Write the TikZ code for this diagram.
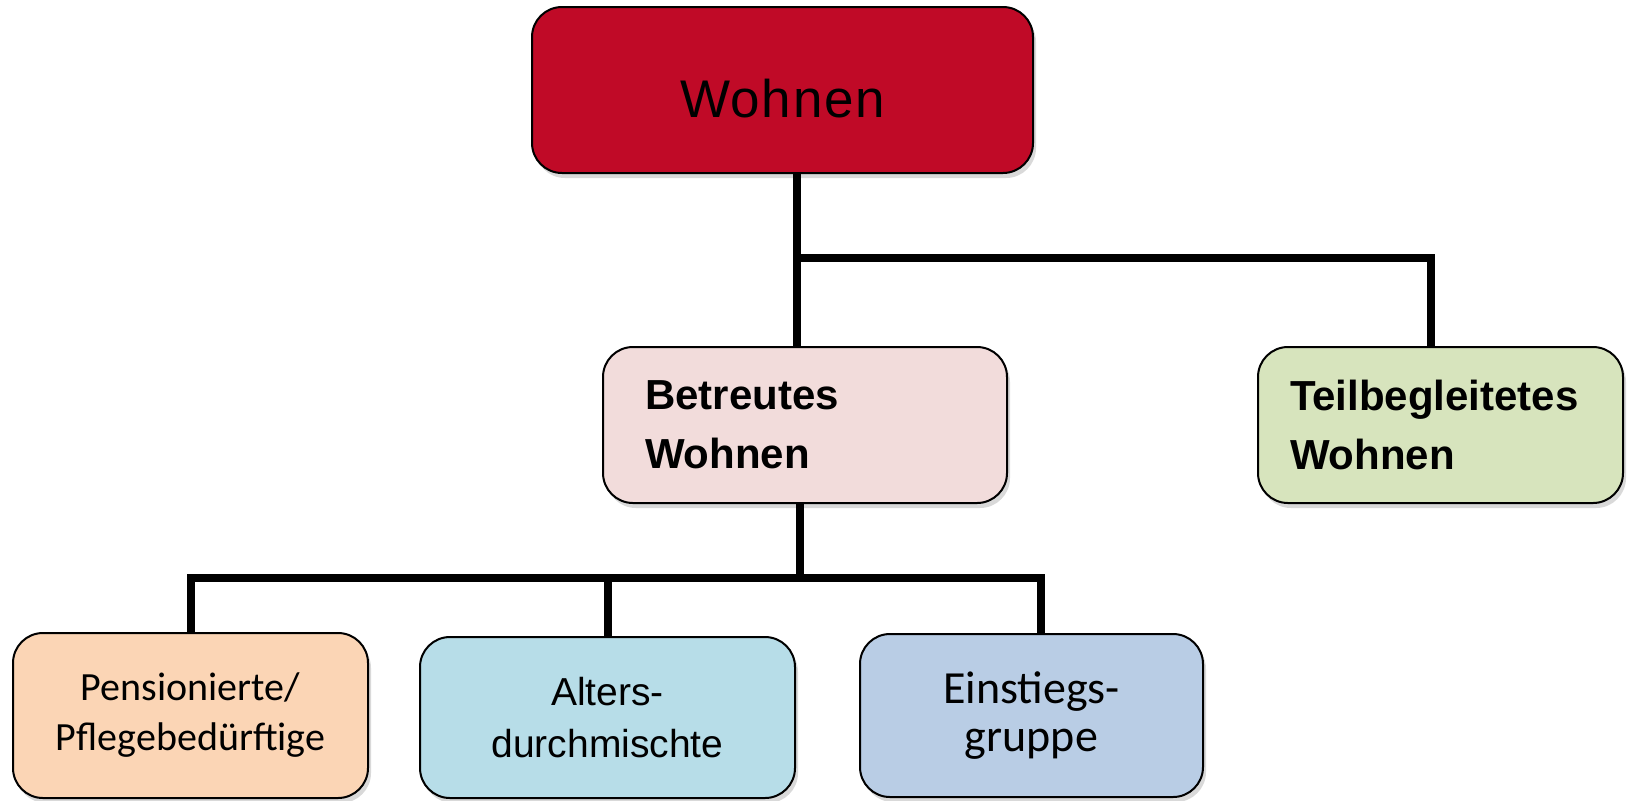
\documentclass[tikz,border=0pt]{standalone}
\usepackage{fontspec}
\setmainfont{Liberation Sans}
\newfontfamily\calfont{Carlito}
\usepackage{xcolor}
\definecolor{wohnRed}{HTML}{C00A27}
\definecolor{betrPink}{HTML}{F2DCDB}
\definecolor{teilGreen}{HTML}{D7E4BD}
\definecolor{pensPeach}{HTML}{FBD5B5}
\definecolor{altBlue}{HTML}{B7DDE8}
\definecolor{einBlue}{HTML}{B9CDE5}
\usepackage{tikz}
\usetikzlibrary{shadows}

\begin{document}
\begin{tikzpicture}[x=0.5pt, y=-0.5pt,
  box/.style={draw=black, line width=1pt, rounded corners=15pt, inner sep=0pt,
    outer sep=0pt, align=center,
    drop shadow={shadow xshift=1.5pt, shadow yshift=-2.5pt, opacity=0.3}},
  link/.style={line width=4pt, black}]
  \useasboundingbox (0,0) rectangle (1627,800);
  % ---- top level ----
  \node[box, fill=wohnRed, minimum width=250.5pt, minimum height=83pt,
    text height=27pt, text depth=0pt,
    font=\fontsize{26.5}{32}\selectfont\addfontfeature{LetterSpace=3}] (wohnen) at (782.5,90) {Wohnen};
  % ---- second level ----
  \node[box, fill=betrPink, minimum width=202pt, minimum height=78pt,
    text width=160pt, inner xsep=21pt, align=left,
    font=\bfseries\fontsize{21}{29.5}\selectfont] (betreut) at (805,425) {Betreutes\\Wohnen};
  \node[box, fill=teilGreen, minimum width=182.5pt, minimum height=78pt,
    text width=150.5pt, inner xsep=16pt, align=left,
    font=\bfseries\fontsize{21}{29.5}\selectfont] (teil) at (1440.5,425) {Teilbegleitetes\\Wohnen};
  % ---- third level ----
  \node[box, fill=pensPeach, minimum width=177.5pt, minimum height=82.5pt,
    font=\calfont\fontsize{20}{25}\selectfont] (pens) at (190.5,715.5) {Pensionierte/\\Pflegebedürftige};
  \node[box, fill=altBlue, minimum width=187.5pt, minimum height=80.5pt,
    font=\fontsize{19.5}{26}\selectfont] (alters) at (607.5,717.5) {Alters-\\durchmischte};
  \node[box, fill=einBlue, minimum width=171.5pt, minimum height=81.5pt,
    font=\calfont\fontsize{23}{24}\selectfont] (einst) at (1031.5,715.5) {Einstiegs-\\gruppe};
  % ---- connectors ----
  \coordinate (topJoint) at (797,258);
  \coordinate (midJoint) at (800,578);
  \draw[link] (topJoint |- wohnen.south) -- (topJoint |- betreut.north);
  \draw[link] (topJoint) -| ([xshift=-5pt]teil.north);
  \draw[link] (midJoint |- betreut.south) -- (midJoint);
  \draw[link] (pens.north) |- (midJoint) -| ([xshift=4.75pt]einst.north);
  \draw[link] (alters.north) -- (alters.north |- midJoint);
\end{tikzpicture}
\end{document}
